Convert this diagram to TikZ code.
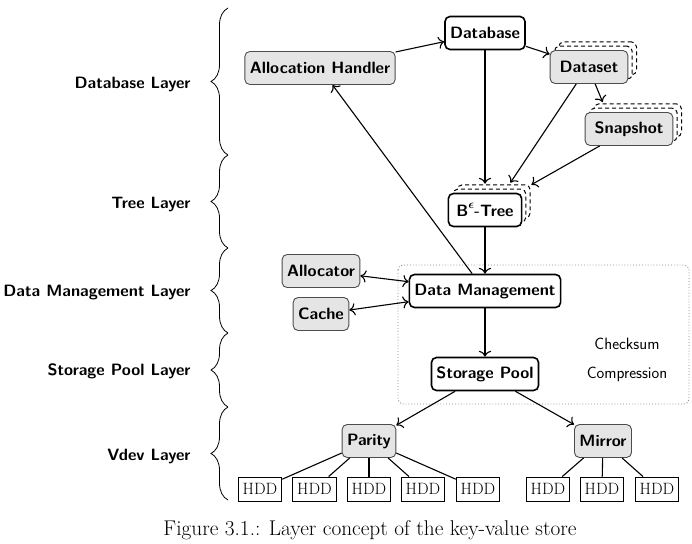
\documentclass[tikz,border=0pt]{standalone}
\usetikzlibrary{shadows,decorations.pathreplacing,calc,arrows.meta}
\begin{document}
\begin{tikzpicture}[x=1pt,y=-1pt,
 >={To[scale=1.45]},
 base/.style={rounded corners=5pt, font=\sffamily\bfseries\fontsize{16.4}{20}\selectfont, minimum height=33pt, inner xsep=5pt, inner ysep=0pt},
 wnode/.style={base, draw=black, line width=1.6pt, fill=white},
 gnode/.style={base, draw=black!70, line width=0.9pt, fill=gray!20},
 stackd/.style={inner xsep=9.5pt, double copy shadow={shadow xshift=4.3pt, shadow yshift=4.3pt, draw=black, dash pattern=on 4pt off 3pt, line width=1pt, fill=white, opacity=1}},
 hdd/.style={draw=black, line width=0.9pt, fill=white, font=\fontsize{16.4}{20}\selectfont, minimum height=24pt, inner xsep=4.5pt, inner ysep=0pt},
 conn/.style={line width=1.1pt},
 arr/.style={conn, ->},
 layerlbl/.style={anchor=east, font=\sffamily\bfseries\fontsize{16.4}{20}\selectfont},
 plainlbl/.style={font=\sffamily\fontsize{16.4}{20}\selectfont},
 brc/.style={decorate, decoration={brace, amplitude=17pt}, line width=0.8pt},
]
\useasboundingbox (0,0) rectangle (692,543);

% layer braces and labels
\draw[brc] (228,155) -- (228,8);
\draw[brc] (228,248) -- (228,155);
\draw[brc] (228,333) -- (228,248);
\draw[brc] (228,407) -- (228,333);
\draw[brc] (228,500) -- (228,407);
\node[layerlbl] (l1) at (194,84) {Database Layer};
\node[layerlbl] (l2) at (194,204) {Tree Layer};
\node[layerlbl] (l3) at (194,292) {Data Management Layer};
\node[layerlbl] (l4) at (194,371) {Storage Pool Layer};
\node[layerlbl] (l5) at (194,456) {Vdev Layer};

% dotted frame
\draw[draw=black!45, dotted, line width=0.9pt, rounded corners=5pt] (398,265) rectangle (689,404);
\node[plainlbl] (chk) at (627,344) {Checksum};
\node[plainlbl] (cmp) at (627,374) {Compression};

% nodes
\node[wnode] (db) at (485,33) {Database};
\node[gnode] (ah) at (320,68) {Allocation Handler};
\node[gnode, stackd] (ds) at (589,67) {Dataset};
\node[gnode, stackd] (snap) at (629,129) {Snapshot};
\node[wnode, stackd, inner xsep=8pt] (tree) at (485,210) {B\raisebox{0.45em}{\fontsize{12.5}{12.5}\selectfont\mathversion{bold}$\epsilon$}-Tree};
\node[gnode] (alloc) at (321,271) {Allocator};
\node[gnode] (cache) at (321,314) {Cache};
\node[wnode] (dm) at (485,291) {Data Management};
\node[wnode] (sp) at (485,374) {Storage Pool};
\node[gnode] (par) at (369,441) {Parity};
\node[gnode] (mir) at (603,441) {Mirror};

\node[hdd] (h1) at (260,489) {HDD};
\node[hdd] (h2) at (314.5,489) {HDD};
\node[hdd] (h3) at (369,489) {HDD};
\node[hdd] (h4) at (423,489) {HDD};
\node[hdd] (h5) at (478,489) {HDD};
\node[hdd] (h6) at (548,489) {HDD};
\node[hdd] (h7) at (602,489) {HDD};
\node[hdd] (h8) at (657,489) {HDD};

% connectors
\draw[arr] (ah) -- (db);
\draw[arr] (db) -- (ds);
\draw[arr] (ds.290) -- ([shift={(18,-10)}]snap.north west);
\draw[arr] (db) -- ([yshift=9pt]tree.north);
\draw[arr] (ds.233) -- ([shift={(-12,-10)}]tree.north east);
\draw[arr] (snap.210) -- ([shift={(9,-8)}]tree.north east);
\draw[arr] (tree) -- (dm);
\draw[arr] (dm) -- (ah);
\draw[conn, <->] (alloc) -- (dm);
\draw[conn, <->] (cache) -- (dm);
\draw[arr] (dm) -- (sp);
\draw[arr] (sp) -- (par);
\draw[arr] (sp) -- (mir);
\foreach \h in {h1,h2,h3,h4,h5} \draw[conn] (par) -- (\h);
\foreach \h in {h6,h7,h8} \draw[conn] (mir) -- (\h);

\node (cap) at (370,530) {\fontsize{21.3}{25}\selectfont Figure 3.1.: Layer concept of the key-value store};
\end{tikzpicture}
\end{document}
